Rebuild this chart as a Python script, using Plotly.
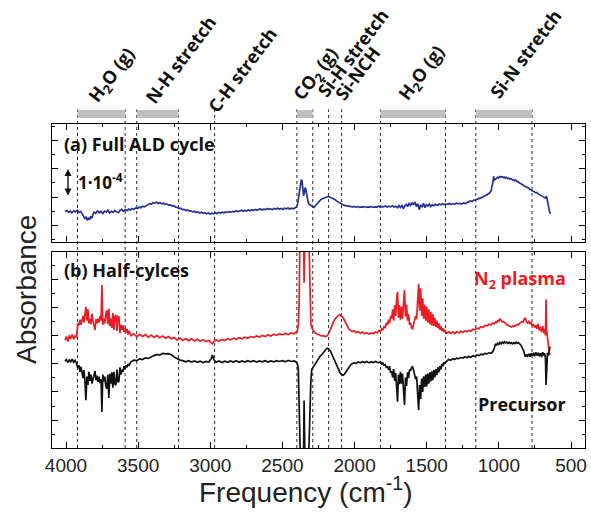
import plotly.graph_objects as go

# ---------------- data (absorbance in units of 1e-4) ----------------
freq_a = [
    4007, 3995, 3983, 3971, 3959, 3947, 3935, 3923, 3911, 3899, 3887, 3878, 3869, 3861, 3853, 3845,
    3837, 3829, 3821, 3813, 3805, 3793, 3781, 3769, 3757, 3745, 3733, 3721, 3709, 3697, 3685, 3673,
    3661, 3649, 3637, 3625, 3613, 3601, 3589, 3577, 3565, 3553, 3541, 3529, 3517, 3505, 3493, 3481,
    3469, 3457, 3445, 3433, 3421, 3409, 3397, 3385, 3373, 3361, 3349, 3337, 3325, 3313, 3301, 3289,
    3277, 3265, 3253, 3241, 3229, 3217, 3205, 3193, 3181, 3169, 3157, 3145, 3133, 3121, 3109, 3097,
    3085, 3073, 3061, 3049, 3037, 3025, 3013, 3001, 2989, 2977, 2965, 2953, 2941, 2929, 2917, 2905,
    2893, 2881, 2869, 2857, 2845, 2833, 2821, 2809, 2797, 2785, 2773, 2761, 2749, 2737, 2725, 2713,
    2701, 2689, 2677, 2665, 2653, 2641, 2629, 2617, 2605, 2593, 2581, 2569, 2557, 2545, 2533, 2521,
    2509, 2497, 2485, 2473, 2461, 2449, 2437, 2425, 2413, 2403, 2395, 2388, 2381, 2375, 2369, 2364,
    2359, 2354, 2349, 2344, 2339, 2334, 2328, 2321, 2314, 2306, 2298, 2290, 2281, 2272, 2263, 2254,
    2245, 2236, 2227, 2218, 2209, 2200, 2191, 2182, 2173, 2164, 2155, 2146, 2137, 2128, 2119, 2110,
    2101, 2092, 2083, 2074, 2062, 2050, 2038, 2026, 2014, 2002, 1990, 1978, 1966, 1954, 1942, 1930,
    1918, 1906, 1894, 1882, 1870, 1858, 1846, 1834, 1822, 1810, 1798, 1786, 1774, 1762, 1750, 1738,
    1726, 1714, 1702, 1692, 1682, 1672, 1662, 1652, 1642, 1632, 1622, 1612, 1602, 1592, 1582, 1572,
    1562, 1552, 1542, 1532, 1522, 1512, 1502, 1492, 1482, 1472, 1462, 1450, 1438, 1426, 1414, 1402,
    1390, 1378, 1366, 1354, 1342, 1330, 1318, 1306, 1294, 1282, 1270, 1258, 1246, 1234, 1222, 1210,
    1198, 1186, 1174, 1162, 1150, 1138, 1126, 1114, 1102, 1090, 1078, 1066, 1054, 1046, 1040, 1036,
    1032, 1026, 1018, 1010, 1002, 994, 986, 978, 970, 962, 954, 946, 938, 930, 922, 914,
    906, 898, 890, 882, 874, 866, 858, 850, 842, 834, 826, 818, 810, 802, 794, 786,
    778, 770, 762, 754, 746, 738, 730, 722, 714, 706, 698, 690, 682, 676, 670, 665,
    660, 654, 648, 642,
]
absorb_full_cycle = [
    0.48, 0.52, 0.46, 0.50, 0.44, 0.51, 0.47, 0.53, 0.45, 0.49, 0.40, 0.33, 0.22, 0.30, 0.17, 0.26,
    0.19, 0.31, 0.24, 0.38, 0.46, 0.42, 0.51, 0.44, 0.49, 0.41, 0.50, 0.46, 0.53, 0.43, 0.49, 0.45,
    0.52, 0.47, 0.44, 0.53, 0.56, 0.49, 0.55, 0.51, 0.57, 0.54, 0.59, 0.56, 0.61, 0.59, 0.64, 0.62,
    0.67, 0.65, 0.70, 0.72, 0.76, 0.74, 0.80, 0.78, 0.81, 0.77, 0.80, 0.76, 0.78, 0.74, 0.75, 0.71,
    0.72, 0.68, 0.69, 0.64, 0.63, 0.59, 0.60, 0.55, 0.56, 0.52, 0.54, 0.50, 0.51, 0.47, 0.49, 0.45,
    0.47, 0.43, 0.46, 0.42, 0.44, 0.40, 0.43, 0.39, 0.42, 0.40, 0.44, 0.41, 0.45, 0.43, 0.46, 0.44,
    0.47, 0.45, 0.48, 0.46, 0.49, 0.47, 0.51, 0.48, 0.50, 0.53, 0.49, 0.52, 0.50, 0.54, 0.51, 0.55,
    0.52, 0.56, 0.53, 0.55, 0.58, 0.54, 0.57, 0.55, 0.59, 0.56, 0.58, 0.55, 0.59, 0.57, 0.60, 0.57,
    0.59, 0.56, 0.60, 0.58, 0.61, 0.57, 0.60, 0.58, 0.61, 0.64, 0.75, 0.98, 1.30, 1.55, 1.62, 1.58,
    1.28, 1.05, 1.12, 1.33, 1.30, 1.12, 0.92, 0.80, 0.74, 0.71, 0.70, 0.67, 0.63, 0.69, 0.75, 0.81,
    0.86, 0.90, 0.93, 0.95, 0.97, 0.99, 1.01, 1.02, 1.00, 0.98, 0.96, 0.94, 0.91, 0.87, 0.84, 0.81,
    0.78, 0.75, 0.73, 0.71, 0.69, 0.68, 0.66, 0.67, 0.65, 0.66, 0.64, 0.66, 0.63, 0.65, 0.64, 0.66,
    0.63, 0.65, 0.64, 0.66, 0.63, 0.65, 0.64, 0.67, 0.64, 0.66, 0.65, 0.68, 0.64, 0.67, 0.65, 0.69,
    0.64, 0.67, 0.62, 0.70, 0.63, 0.71, 0.58, 0.68, 0.74, 0.66, 0.77, 0.70, 0.80, 0.72, 0.82, 0.66,
    0.76, 0.55, 0.72, 0.64, 0.78, 0.62, 0.73, 0.68, 0.75, 0.66, 0.72, 0.69, 0.74, 0.70, 0.75, 0.72,
    0.76, 0.73, 0.75, 0.74, 0.77, 0.74, 0.76, 0.75, 0.78, 0.76, 0.77, 0.75, 0.79, 0.77, 0.80, 0.82,
    0.86, 0.84, 0.89, 0.90, 0.93, 0.94, 0.97, 0.99, 1.02, 1.05, 1.09, 1.13, 1.22, 1.38, 1.56, 1.74,
    1.60, 1.62, 1.66, 1.70, 1.68, 1.73, 1.71, 1.72, 1.69, 1.71, 1.67, 1.70, 1.66, 1.67, 1.63, 1.65,
    1.61, 1.62, 1.58, 1.60, 1.55, 1.54, 1.50, 1.49, 1.45, 1.44, 1.40, 1.38, 1.36, 1.33, 1.32, 1.27,
    1.26, 1.22, 1.21, 1.19, 1.15, 1.16, 1.12, 1.10, 1.06, 1.05, 1.02, 1.00, 0.98, 0.96, 1.03, 0.90,
    0.70, 0.55, 0.47, 0.40,
]

freq_b = [
    4007, 3997, 3987, 3977, 3967, 3957, 3947, 3937, 3927,
    3918, 3910, 3903, 3896, 3889, 3882, 3876, 3869, 3862, 3855, 3848, 3841, 3834, 3827, 3820, 3813,
    3806, 3799, 3792, 3785, 3778, 3771, 3764, 3757, 3751, 3745, 3738, 3731, 3724, 3717, 3710, 3703,
    3696, 3689, 3682, 3675, 3668, 3661, 3654, 3647, 3640, 3633, 3626, 3619, 3612, 3605, 3598, 3591,
    3584, 3577, 3570, 3563,
    3550, 3530, 3510, 3490, 3470, 3450, 3430, 3410, 3390, 3370, 3350, 3330, 3310, 3290, 3270, 3250,
    3230, 3210, 3190, 3170, 3150, 3130, 3110, 3090, 3070, 3050, 3030, 3010, 2995, 2985, 2975, 2960,
    2940, 2920, 2900, 2880, 2860, 2840, 2820, 2800, 2780, 2760, 2740, 2720, 2700, 2680, 2660, 2640,
    2620, 2600, 2580, 2560, 2540, 2520, 2500, 2480, 2460, 2440, 2420,
    2408, 2398, 2390, 2384, 2378, 2371, 2364, 2357, 2350, 2343, 2336, 2329, 2322, 2315, 2309, 2303,
    2297,
    2288, 2276, 2264, 2252, 2240, 2228, 2216, 2204, 2192, 2184, 2176, 2166, 2155, 2144, 2133, 2122,
    2111, 2100, 2090, 2080, 2070, 2060, 2050, 2040, 2028, 2016, 2004, 1990, 1975, 1960, 1945, 1930,
    1915, 1900, 1885, 1870, 1855, 1842,
    1830, 1820, 1812, 1804, 1796, 1788, 1780, 1772, 1764, 1757, 1750, 1743, 1736, 1729, 1722, 1715,
    1708, 1702, 1696, 1689, 1682, 1675, 1668, 1661, 1654, 1647, 1640, 1633, 1626, 1619, 1612, 1605,
    1598, 1591, 1584, 1577, 1570, 1563, 1556, 1549, 1542, 1535, 1528, 1521, 1514, 1507, 1500, 1493,
    1486, 1479, 1472, 1465, 1458, 1451, 1444, 1437, 1430, 1423, 1416, 1409, 1402, 1395, 1388, 1381,
    1374,
    1362, 1348, 1334, 1320, 1306, 1292, 1278, 1264, 1250, 1236, 1222, 1208, 1194, 1180, 1166, 1152,
    1138, 1124, 1110, 1096, 1082, 1068, 1054, 1042, 1032, 1024, 1016, 1008, 1000, 992, 984, 976,
    968, 960, 952, 944, 936, 928, 920, 912, 904, 896, 888, 880, 872, 864, 856, 848,
    840, 832, 826, 820, 814, 808, 800, 792, 784, 776, 768, 760, 752, 744, 736, 728,
    720, 712, 704, 696, 688, 682, 677, 673, 669, 663, 657, 651, 645,
]
absorb_n2_plasma = [
    3.85, 3.98, 3.80, 4.02, 3.90, 4.05, 3.88, 4.00, 3.95,
    4.46, 4.38, 4.58, 4.40, 4.52, 4.72, 4.48, 4.80, 5.04, 4.55, 4.95, 4.45, 4.62, 4.42, 4.80, 4.55,
    4.30, 4.22, 4.60, 4.45, 4.62, 4.48, 4.72, 4.55, 5.82, 4.40, 4.62, 4.45, 4.80, 4.92, 4.42, 4.98,
    4.35, 4.62, 4.28, 4.82, 4.22, 4.70, 4.75, 4.18, 4.70, 4.68, 4.10, 4.40, 4.22, 4.38, 4.15, 4.30,
    4.12, 4.25, 4.05, 4.18,
    4.02, 4.08, 3.97, 4.06, 3.98, 4.05, 3.96, 4.03, 3.95, 4.02, 3.94, 4.00, 3.92, 3.98, 3.90, 3.95,
    3.86, 3.93, 3.84, 3.91, 3.83, 3.90, 3.82, 3.88, 3.81, 3.87, 3.80, 3.84, 3.76, 3.72, 3.80, 3.86,
    3.82, 3.88, 3.84, 3.90, 3.86, 3.92, 3.88, 3.94, 3.90, 3.96, 3.92, 3.98, 3.95, 4.00, 3.96, 4.02,
    3.98, 4.04, 4.00, 4.06, 4.02, 4.08, 4.04, 4.09, 4.05, 4.11, 4.08,
    4.12, 4.16, 4.35, 5.20, 8.00, 9.80, 10.2, 9.60, 5.90, 9.40, 10.2, 10.0, 9.20, 7.20, 5.20, 4.45,
    4.30,
    4.20, 4.12, 4.08, 4.05, 4.02, 4.00, 4.01, 3.99, 4.00, 4.06, 4.12, 4.25, 4.40, 4.52, 4.62, 4.69,
    4.74, 4.75, 4.72, 4.66, 4.56, 4.45, 4.34, 4.25, 4.20, 4.16, 4.18, 4.12, 4.15, 4.10, 4.14, 4.08,
    4.12, 4.07, 4.11, 4.09, 4.14, 4.11,
    4.20, 4.16, 4.26, 4.22, 4.34, 4.30, 4.44, 4.40, 4.58, 4.45, 4.72, 4.62, 4.95, 4.55, 5.10, 4.72,
    5.35, 5.58, 4.65, 5.10, 4.58, 5.05, 4.62, 5.22, 5.64, 4.70, 5.12, 4.55, 4.78, 4.40, 4.48, 4.30,
    4.24, 4.42, 4.55, 4.72, 4.60, 5.30, 5.86, 4.90, 5.70, 4.72, 5.35, 4.62, 5.12, 4.55, 5.05, 4.48,
    4.95, 4.42, 4.85, 4.38, 4.78, 4.36, 4.65, 4.32, 4.55, 4.28, 4.45, 4.22, 4.36, 4.18, 4.28, 4.14,
    4.20,
    4.10, 4.15, 4.09, 4.14, 4.10, 4.15, 4.11, 4.17, 4.13, 4.18, 4.15, 4.20, 4.17, 4.24, 4.22, 4.28,
    4.26, 4.33, 4.31, 4.38, 4.36, 4.42, 4.40, 4.46, 4.44, 4.50, 4.48, 4.55, 4.52, 4.62, 4.56, 4.50,
    4.52, 4.46, 4.44, 4.40, 4.38, 4.35, 4.33, 4.32, 4.36, 4.34, 4.38, 4.37, 4.41, 4.40, 4.45, 4.48,
    4.52, 4.50, 4.56, 4.65, 4.60, 4.50, 4.46, 4.52, 4.44, 4.48, 4.36, 4.42, 4.30, 4.38, 4.26, 4.44,
    4.20, 4.32, 4.14, 4.35, 4.10, 4.25, 4.02, 5.30, 4.20, 3.85, 3.55, 3.42, 3.33,
]
absorb_precursor = [
    3.10, 3.16, 3.05, 3.14, 3.08, 3.17, 3.06, 3.13, 3.02,
    2.85, 2.95, 2.72, 2.90, 2.66, 2.50, 2.78, 2.40, 1.71, 2.55, 2.25, 2.72, 2.40, 2.62, 2.30, 2.48,
    2.70, 2.75, 2.42, 2.58, 2.36, 2.55, 2.32, 2.45, 1.29, 2.62, 2.38, 2.55, 2.20, 2.12, 2.62, 1.79,
    2.65, 2.30, 2.70, 2.15, 2.72, 2.28, 2.25, 2.80, 2.35, 2.38, 2.88, 2.62, 2.80, 2.72, 2.92, 2.82,
    2.95, 2.88, 3.00, 2.94,
    3.08, 3.14, 3.12, 3.18, 3.16, 3.22, 3.20, 3.26, 3.30, 3.34, 3.32, 3.38, 3.36, 3.37, 3.33, 3.25,
    3.20, 3.14, 3.12, 3.08, 3.12, 3.07, 3.11, 3.06, 3.10, 3.05, 3.09, 3.07, 3.18, 3.32, 3.15, 3.06,
    3.11, 3.05, 3.10, 3.06, 3.11, 3.07, 3.12, 3.06, 3.11, 3.07, 3.12, 3.08, 3.12, 3.07, 3.11, 3.08,
    3.12, 3.07, 3.11, 3.08, 3.12, 3.09, 3.12, 3.08, 3.13, 3.09, 3.11,
    3.08, 3.02, 2.85, 1.50, -0.50, -2.50, -3.00, -2.20, 1.70, -2.20, -3.00, -2.60, -1.00, 0.60, 1.80, 2.40,
    2.80,
    2.88, 3.00, 3.10, 3.20, 3.27, 3.33, 3.40, 3.48, 3.56, 3.56, 3.52, 3.45, 3.32, 3.20, 3.05, 2.90,
    2.78, 2.68, 2.62, 2.60, 2.64, 2.72, 2.82, 2.90, 2.96, 3.01, 3.04, 3.02, 3.07, 3.04, 3.08, 3.05,
    3.09, 3.04, 3.08, 3.05, 3.09, 3.06,
    3.05, 3.08, 3.00, 3.04, 2.96, 2.98, 2.88, 2.90, 2.80, 2.92, 2.68, 2.74, 2.52, 2.82, 2.40, 2.68,
    2.20, 1.65, 2.62, 2.28, 2.72, 2.30, 2.66, 2.10, 1.54, 2.52, 2.22, 2.70, 2.50, 2.80, 2.76, 2.88,
    2.90, 2.78, 2.62, 2.46, 2.55, 2.05, 1.36, 2.25, 1.75, 2.48, 2.00, 2.56, 2.18, 2.62, 2.20, 2.66,
    2.30, 2.70, 2.38, 2.74, 2.42, 2.78, 2.52, 2.82, 2.60, 2.88, 2.70, 2.92, 2.80, 3.00, 2.92, 3.06,
    3.02,
    3.10, 3.16, 3.13, 3.19, 3.16, 3.21, 3.19, 3.23, 3.21, 3.25, 3.23, 3.27, 3.24, 3.29, 3.27, 3.32,
    3.30, 3.35, 3.33, 3.38, 3.36, 3.40, 3.38, 3.44, 3.55, 3.72, 3.68, 3.74, 3.70, 3.77, 3.72, 3.78,
    3.74, 3.79, 3.75, 3.78, 3.74, 3.77, 3.73, 3.76, 3.72, 3.76, 3.73, 3.78, 3.74, 3.76, 3.72, 3.68,
    3.60, 3.52, 3.44, 3.30, 3.26, 3.34, 3.28, 3.36, 3.26, 3.38, 3.30, 3.40, 3.28, 3.42, 3.30, 3.40,
    3.28, 3.38, 3.25, 3.42, 3.30, 3.38, 3.20, 2.25, 3.05, 3.40, 3.30, 3.50, 3.62,
]

# x-axis ticks (cm^-1)
freq_ticks = [4000, 3500, 3000, 2500, 2000, 1500, 1000, 500]
freq_tick_labels = ["4000", "3500", "3000", "2500", "2000", "1500", "1000", "500"]
freq_minor_ticks = [3750, 3250, 2750, 2250, 1750, 1250, 750]

# assignment markers: dotted guide lines and shaded bands
guide_freqs = [3920, 3590, 3510, 3220, 2970, 2400, 2290, 2180, 2090, 1820, 1370, 1160, 770]
band_ranges = [(3920, 3590), (3510, 3220), (2400, 2290), (1820, 1370), (1160, 770)]
band_labels = ["H<sub>2</sub>O (g)", "N-H stretch", "C-H stretch", "CO<sub>2</sub> (g)",
               "Si-H stretch", "Si-NCH", "H<sub>2</sub>O (g)", "Si-N stretch"]
band_label_freqs = [3821, 3427, 2992, 2405, 2233, 2109, 1674, 1039]
band_label_y = [1.040, 1.040, 1.013, 1.046, 1.059, 1.050, 1.046, 1.056]

BLUE = "#27318f"
RED = "#ec1c24"
BLACK = "#111111"
LABEL_FONT = "Open Sans, Noto Sans, DejaVu Sans, sans-serif"
AXIS_FONT = "Liberation Sans, Arial, sans-serif"

fig = go.Figure()
fig.add_trace(go.Scatter(x=freq_a, y=absorb_full_cycle, xaxis="x2", yaxis="y2", mode="lines",
                         line=dict(color=BLUE, width=1.7), showlegend=False, hoverinfo="skip"))
fig.add_trace(go.Scatter(x=freq_b, y=absorb_n2_plasma, xaxis="x", yaxis="y", mode="lines",
                         line=dict(color=RED, width=1.7), showlegend=False, hoverinfo="skip"))
fig.add_trace(go.Scatter(x=freq_b, y=absorb_precursor, xaxis="x", yaxis="y", mode="lines",
                         line=dict(color=BLACK, width=1.7), showlegend=False, hoverinfo="skip"))

frame = dict(showline=True, linecolor="#000", linewidth=1.2, mirror="ticks", ticks="inside",
             tickcolor="#000", tickwidth=1.1, showgrid=False, zeroline=False)
x_common = dict(frame, range=[4097, 403], tickmode="array", tickvals=freq_ticks,
                ticktext=freq_tick_labels, ticklen=6,
                minor=dict(ticks="inside", ticklen=3, tickmode="array", tickvals=freq_minor_ticks,
                           tickcolor="#000", tickwidth=1.1),
                tickfont=dict(family=AXIS_FONT, size=19, color="#222"))

fig.update_layout(
    width=591, height=512,
    margin=dict(l=52, r=4, t=124, b=64),
    paper_bgcolor="white", plot_bgcolor="white",
    xaxis=dict(x_common, domain=[0, 1], anchor="y"),
    xaxis2=dict(x_common, domain=[0, 1], anchor="y2", matches="x", showticklabels=False),
    yaxis=dict(frame, domain=[0, 0.605], range=[0, 7], tickmode="array",
               tickvals=[0, 1, 2, 3, 4, 5, 6, 7], ticklen=6, showticklabels=False,
               minor=dict(ticks="inside", ticklen=3, tickmode="array",
                          tickvals=[0.5, 1.5, 2.5, 3.5, 4.5, 5.5, 6.5], tickcolor="#000")),
    yaxis2=dict(frame, domain=[0.636, 1], range=[-0.6, 3.6], tickmode="array",
                tickvals=[0, 1, 2, 3], ticklen=6, showticklabels=False,
                minor=dict(ticks="inside", ticklen=3, tickmode="array",
                           tickvals=[-0.5, 0.5, 1.5, 2.5, 3.5], tickcolor="#000")),
)

shapes = []
for lo, hi in band_ranges:
    shapes.append(dict(type="rect", xref="x", yref="paper", x0=lo, x1=hi, y0=1.0185, y1=1.043,
                       fillcolor="#bfbfbf", line=dict(width=0), layer="above"))
for f in guide_freqs:
    shapes.append(dict(type="line", xref="x", yref="paper", x0=f, x1=f, y0=0, y1=1.045,
                       line=dict(color="#2a2a2a", width=1, dash="dot"), layer="below"))
fig.update_layout(shapes=shapes)

ann = []
for text, f, yb in zip(band_labels, band_label_freqs, band_label_y):
    ann.append(dict(text=f"<b>{text}</b>", x=f, y=yb, xref="x", yref="paper",
                    xanchor="left", yanchor="bottom", xshift=-12, textangle=-53,
                    showarrow=False, font=dict(family=LABEL_FONT, size=18, color="#111")))

ann += [
    dict(text="<b>(a) Full ALD cycle</b>", x=0.0187, y=0.938, xref="paper", yref="paper",
         xanchor="left", yanchor="middle", showarrow=False,
         font=dict(family=LABEL_FONT, size=18, color="#111")),
    dict(text="<b>1·10<sup>-4</sup></b>", x=0.0449, y=0.821, xref="paper", yref="paper",
         xanchor="left", yanchor="middle", showarrow=False,
         font=dict(family=LABEL_FONT, size=17, color="#111")),
    dict(text="", x=3986, y=2.0, ax=3986, ay=1.0, xref="x2", yref="y2", axref="x2", ayref="y2",
         showarrow=True, arrowside="end+start", arrowhead=2, arrowsize=1, arrowwidth=1.4,
         arrowcolor="#111"),
    dict(text="<b>(b) Half-cylces</b>", x=0.0187, y=0.549, xref="paper", yref="paper",
         xanchor="left", yanchor="middle", showarrow=False,
         font=dict(family=LABEL_FONT, size=18, color="#111")),
    dict(text="<b>N<sub>2</sub> plasma</b>", x=0.968, y=0.519, xref="paper", yref="paper",
         xanchor="right", yanchor="middle", showarrow=False,
         font=dict(family=LABEL_FONT, size=18, color=RED)),
    dict(text="<b>Precursor</b>", x=0.968, y=0.136, xref="paper", yref="paper",
         xanchor="right", yanchor="middle", showarrow=False,
         font=dict(family=LABEL_FONT, size=18, color="#111")),
    dict(text="Absorbance", x=-0.0467, y=0.488, xref="paper", yref="paper", textangle=-90,
         xanchor="center", yanchor="middle", showarrow=False,
         font=dict(family=AXIS_FONT, size=28, color="#222")),
    dict(text="Frequency (cm<sup>-1</sup>)", x=0.475, y=-0.13, xref="paper", yref="paper",
         xanchor="center", yanchor="middle", showarrow=False,
         font=dict(family=AXIS_FONT, size=28, color="#222")),
]
fig.update_layout(annotations=ann)

fig.write_html("out.html")
